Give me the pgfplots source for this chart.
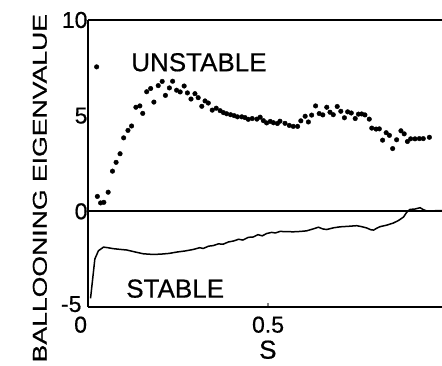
\documentclass[border=0pt]{standalone}
\usepackage{pgfplots}
\pgfplotsset{compat=1.18}
\usepackage{fontspec}
\setmainfont{Liberation Sans}[FakeBold=0.6]
\begin{document}
\begin{tikzpicture}
\path[use as bounding box] (-88pt,-58pt) rectangle (354pt,307pt);
\begin{axis}[
  scale only axis, width=354pt, height=287pt,
  anchor=south west, at={(0,0)},
  xmin=0, xmax=0.983, ymin=-5, ymax=10,
  axis x line*=bottom, axis y line*=left,
  axis line style={line width=1.7pt, -},
  xtick={0,0.5}, xticklabels={\makebox[0pt][r]{0\kern1pt},0.5},
  ytick={-5,0,5,10}, yticklabels={\raisebox{6pt}{-5}\kern6pt,0,5,10},
  ytick style={draw=none},
  xtick style={line width=1.2pt},
  tick align=inside, major tick length=4pt,
  /pgf/number format/assume math mode=true,
  tick label style={font=\fontsize{23}{24}\selectfont},
  xticklabel style={yshift=-6pt},
  yticklabel style={xshift=3pt},
  xlabel={\fontsize{26}{28}\selectfont S},
  xlabel style={at={(axis description cs:0.508,-0.18)}, anchor=base, inner sep=0pt},
  ylabel={\fontsize{26.6}{28}\selectfont\scalebox{1}[0.75]{BALLOONING EIGENVALUE}},
  ylabel style={at={(axis description cs:-0.136,0.414)}, anchor=center, rotate=0},
  clip=false,
]
\draw[line width=1.7pt] (rel axis cs:0,1) -- (rel axis cs:1,1);
\draw[line width=1.7pt] (axis cs:0,0) -- (axis cs:0.983,0);
\addplot[only marks, mark=*, mark size=2.3pt, black] coordinates {
(0.024,7.55) (0.026,0.78) (0.035,0.44) (0.044,0.47) (0.056,1.00) (0.068,2.10)
(0.078,2.56) (0.089,3.01) (0.099,3.84) (0.111,4.23) (0.121,4.46) (0.133,5.44)
(0.144,5.51) (0.152,5.12) (0.163,6.25) (0.174,6.42) (0.183,5.71) (0.195,6.57)
(0.206,6.79) (0.215,6.06) (0.226,6.45) (0.235,6.80) (0.246,6.33) (0.256,6.24)
(0.267,6.55) (0.276,6.19) (0.286,5.87) (0.297,6.15) (0.306,5.94) (0.316,5.49)
(0.325,5.77) (0.334,5.66) (0.345,5.29) (0.356,5.39) (0.367,5.26) (0.376,5.16)
(0.385,5.10) (0.396,5.05) (0.406,5.00) (0.415,4.94) (0.427,4.94) (0.436,4.90)
(0.445,4.81) (0.456,4.85) (0.469,4.82) (0.478,4.92) (0.487,4.74) (0.496,4.62)
(0.506,4.70) (0.515,4.63) (0.526,4.59) (0.533,4.71) (0.547,4.60) (0.559,4.49)
(0.570,4.44) (0.582,4.44) (0.591,4.73) (0.603,4.97) (0.612,4.67) (0.621,5.03)
(0.632,5.51) (0.642,5.11) (0.652,5.04) (0.663,5.44) (0.672,5.18) (0.681,5.05)
(0.692,5.48) (0.702,5.23) (0.712,4.89) (0.721,5.20) (0.731,5.14) (0.742,4.85)
(0.751,5.08) (0.760,5.09) (0.769,5.04) (0.781,4.82) (0.788,4.35) (0.800,4.30)
(0.809,4.31) (0.818,3.72) (0.828,4.11) (0.837,3.97) (0.846,3.28) (0.857,3.74)
(0.869,4.21) (0.878,4.05) (0.887,3.65) (0.896,3.79) (0.908,3.79) (0.920,3.80)
(0.931,3.80) (0.948,3.87)
};
\addplot[black, line width=1.5pt, mark=none] coordinates {
(0.007,-4.55) (0.013,-3.53) (0.019,-2.49) (0.029,-2.06) (0.043,-1.87) (0.055,-1.90)
(0.070,-1.95) (0.090,-1.99) (0.107,-2.02) (0.130,-2.12) (0.154,-2.22) (0.178,-2.25)
(0.200,-2.24) (0.225,-2.20) (0.246,-2.13) (0.270,-2.07) (0.293,-1.99) (0.310,-1.90)
(0.320,-1.94) (0.335,-1.82) (0.348,-1.79) (0.362,-1.70) (0.375,-1.72) (0.390,-1.60)
(0.404,-1.55) (0.418,-1.46) (0.430,-1.50) (0.445,-1.36) (0.459,-1.34) (0.472,-1.22)
(0.484,-1.28) (0.496,-1.16) (0.510,-1.10) (0.520,-1.13) (0.533,-1.05) (0.550,-1.06)
(0.570,-1.07) (0.590,-1.05) (0.607,-1.02) (0.625,-0.92) (0.640,-0.83) (0.652,-0.92)
(0.663,-0.95) (0.682,-0.86) (0.700,-0.81) (0.725,-0.78) (0.746,-0.75) (0.760,-0.80)
(0.774,-0.87) (0.785,-0.96) (0.793,-0.98) (0.802,-0.88) (0.811,-0.80) (0.830,-0.72)
(0.848,-0.61) (0.862,-0.48) (0.876,-0.30) (0.885,-0.05) (0.894,0.10) (0.908,0.12)
(0.922,0.19) (0.932,0.08) (0.941,0.02) (0.983,0.04)
};
\node at (axis cs:0.308,7.79) {\fontsize{26}{28}\selectfont UNSTABLE};
\node at (axis cs:0.242,-4.04) {\fontsize{26}{28}\selectfont STABLE};
\end{axis}
\end{tikzpicture}
\end{document}
